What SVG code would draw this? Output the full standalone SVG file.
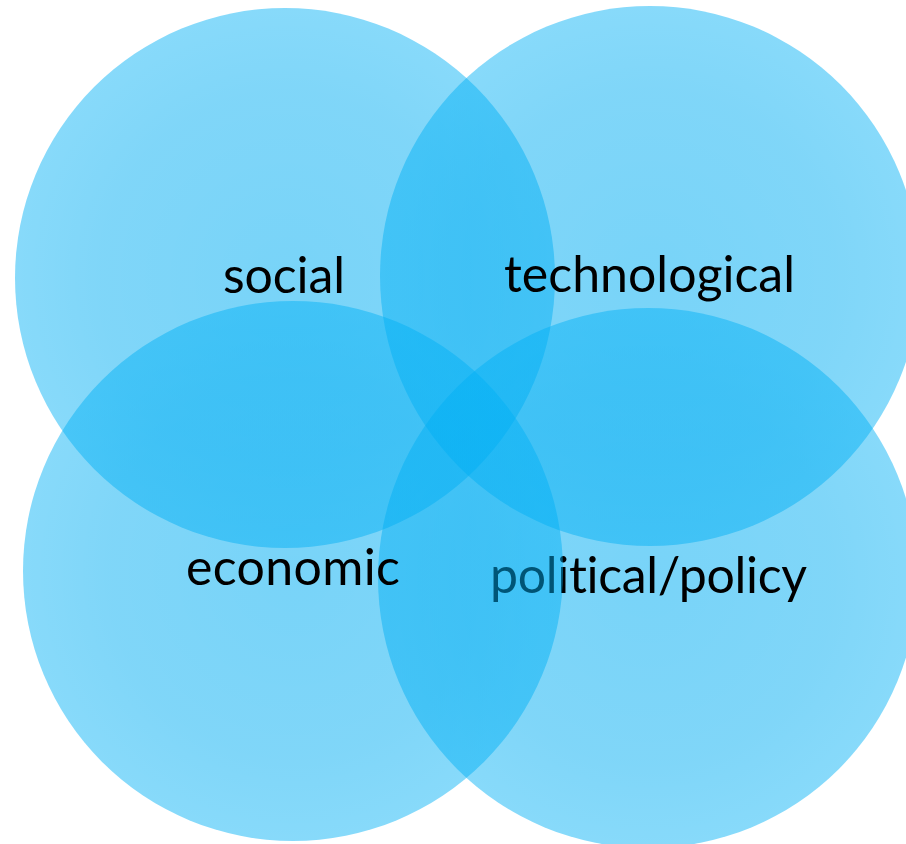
<svg xmlns="http://www.w3.org/2000/svg" width="906" height="844" viewBox="0 0 906 844">
  <defs>
    <radialGradient id="g" cx="0.5" cy="0.5" r="0.5">
      <stop offset="0" stop-color="#00ADF2" stop-opacity="0.53"/>
      <stop offset="0.7" stop-color="#00ADF2" stop-opacity="0.5"/>
      <stop offset="1" stop-color="#00B0F5" stop-opacity="0.47"/>
    </radialGradient>
  </defs>
  <style>
    .c { fill: url(#g); }
    .t { font-family: Lato, "Open Sans", "Liberation Sans", sans-serif; font-size: 50px; fill: #000; font-variant-ligatures: none; }
  </style>
  <rect width="906" height="844" fill="#ffffff"/>
  <g id="social">
    <circle class="c" cx="285" cy="278" r="270"/>
    <text class="t" x="223" y="293" textLength="122" lengthAdjust="spacing">social</text>
  </g>
  <g id="technological">
    <circle class="c" cx="650" cy="276" r="270"/>
    <text class="t" x="504" y="292" textLength="291" lengthAdjust="spacing">technological</text>
  </g>
  <g id="political">
    <circle class="c" cx="648" cy="578" r="270"/>
    <text class="t" x="490" y="593" textLength="317" lengthAdjust="spacing">political/policy</text>
  </g>
  <g id="economic">
    <circle class="c" cx="293" cy="571" r="270"/>
    <text class="t" x="186" y="585" textLength="214" lengthAdjust="spacing">economic</text>
  </g>
  <g id="connectors"/>
</svg>
